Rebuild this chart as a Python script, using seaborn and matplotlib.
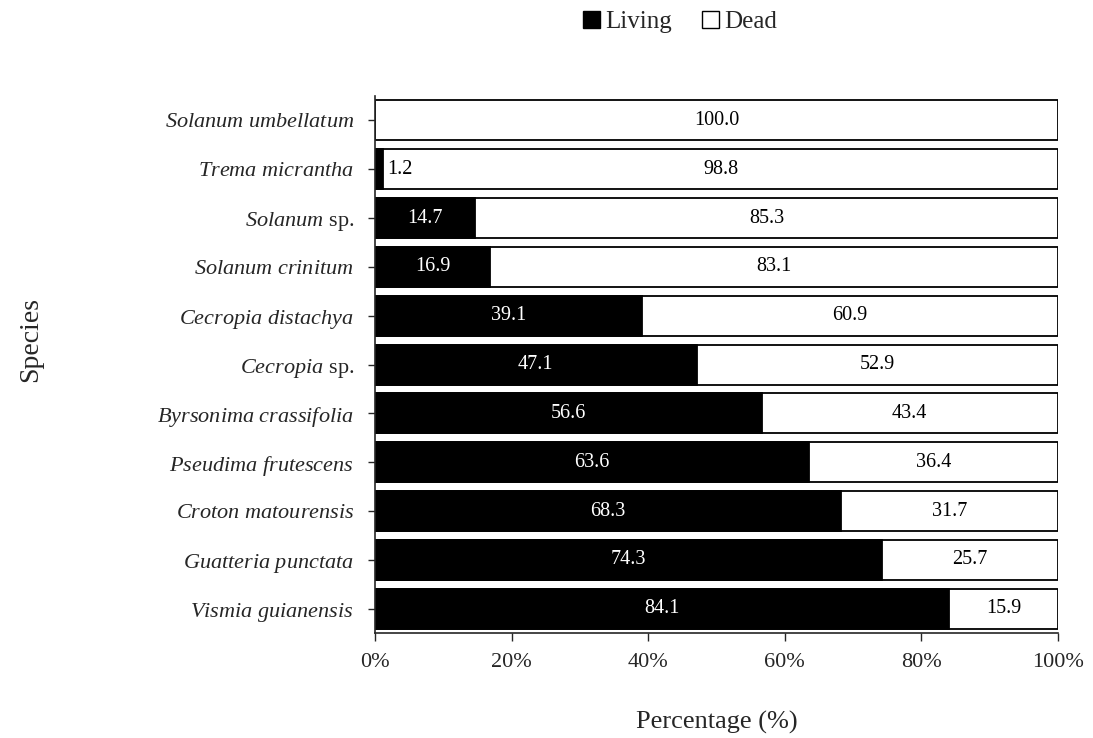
import matplotlib
matplotlib.use("Agg")
import matplotlib.pyplot as plt
import seaborn as sns
import pandas as pd
from matplotlib.patches import Patch

species = ["Solanum umbellatum", "Trema micrantha", "Solanum sp.", "Solanum crinitum",
           "Cecropia distachya", "Cecropia sp.", "Byrsonima crassifolia",
           "Pseudima frutescens", "Croton matourensis", "Guatteria punctata",
           "Vismia guianensis"]
tick_labels = [r"$\mathit{Solanum\ umbellatum}$", r"$\mathit{Trema\ micrantha}$",
               r"$\mathit{Solanum}$ sp.", r"$\mathit{Solanum\ crinitum}$",
               r"$\mathit{Cecropia\ distachya}$", r"$\mathit{Cecropia}$ sp.",
               r"$\mathit{Byrsonima\ crassifolia}$", r"$\mathit{Pseudima\ frutescens}$",
               r"$\mathit{Croton\ matourensis}$", r"$\mathit{Guatteria\ punctata}$",
               r"$\mathit{Vismia\ guianensis}$"]
living = [0.0, 1.2, 14.7, 16.9, 39.1, 47.1, 56.6, 63.6, 68.3, 74.3, 84.1]
dead = [100.0, 98.8, 85.3, 83.1, 60.9, 52.9, 43.4, 36.4, 31.7, 25.7, 15.9]
x_ticks = [0, 20, 40, 60, 80, 100]

sns.set_style("ticks")
plt.rcParams["font.family"] = ["Liberation Serif", "DejaVu Serif"]
plt.rcParams["mathtext.fontset"] = "custom"
plt.rcParams["mathtext.rm"] = "Liberation Serif"
plt.rcParams["mathtext.it"] = "Liberation Serif:italic"

df = pd.DataFrame({"species": species, "living": living, "dead": dead})
df["total"] = df["living"] + df["dead"]

fig = plt.figure(figsize=(10.93, 7.38), dpi=100)
ax = fig.add_axes([0.343, 0.142, 0.625, 0.728])

sns.barplot(data=df, x="total", y="species", order=species, orient="h",
            color="white", edgecolor="black", linewidth=1.3, width=0.82,
            saturation=1, ax=ax)
sns.barplot(data=df, x="living", y="species", order=species, orient="h",
            color="black", edgecolor="black", linewidth=1.3, width=0.82,
            saturation=1, ax=ax)

for i, (lv, dv) in enumerate(zip(living, dead)):
    if lv >= 5:
        ax.text(lv / 2, i, f"{lv:.1f}", color="white", ha="center", va="center", fontsize=14.5)
    elif lv > 0:
        ax.text(lv + 0.6, i, f"{lv:.1f}", color="black", ha="left", va="center", fontsize=14.5)
    ax.text(lv + dv / 2, i, f"{dv:.1f}", color="black", ha="center", va="center", fontsize=14.5)

ax.set_xlim(0, 100)
ax.set_ylim(10.5, -0.5)
ax.set_xticks(x_ticks)
ax.set_xticklabels([f"{t}%" for t in x_ticks], fontsize=16)
ax.set_yticks(range(len(species)))
ax.set_yticklabels(tick_labels, fontsize=16)
ax.tick_params(axis="x", direction="out", length=6, width=1, pad=8)
ax.tick_params(axis="y", direction="out", length=5, width=1, pad=10)
for s in ["top", "right"]:
    ax.spines[s].set_visible(False)
for s in ["left", "bottom"]:
    ax.spines[s].set_linewidth(1.2)

ax.set_xlabel("Percentage (%)", fontsize=19, labelpad=28)
ax.set_ylabel("Species", fontsize=20)
ax.yaxis.set_label_coords(-0.485, 0.546)

handles = [Patch(facecolor="black", edgecolor="black", label="Living"),
           Patch(facecolor="white", edgecolor="black", label="Dead")]
fig.legend(handles=handles, loc="center", bbox_to_anchor=(0.622, 0.97), ncol=2,
           frameon=False, fontsize=18, handlelength=0.7, handleheight=0.7,
           handletextpad=0.2, columnspacing=1.2)

fig.savefig("out.png", dpi=100)
